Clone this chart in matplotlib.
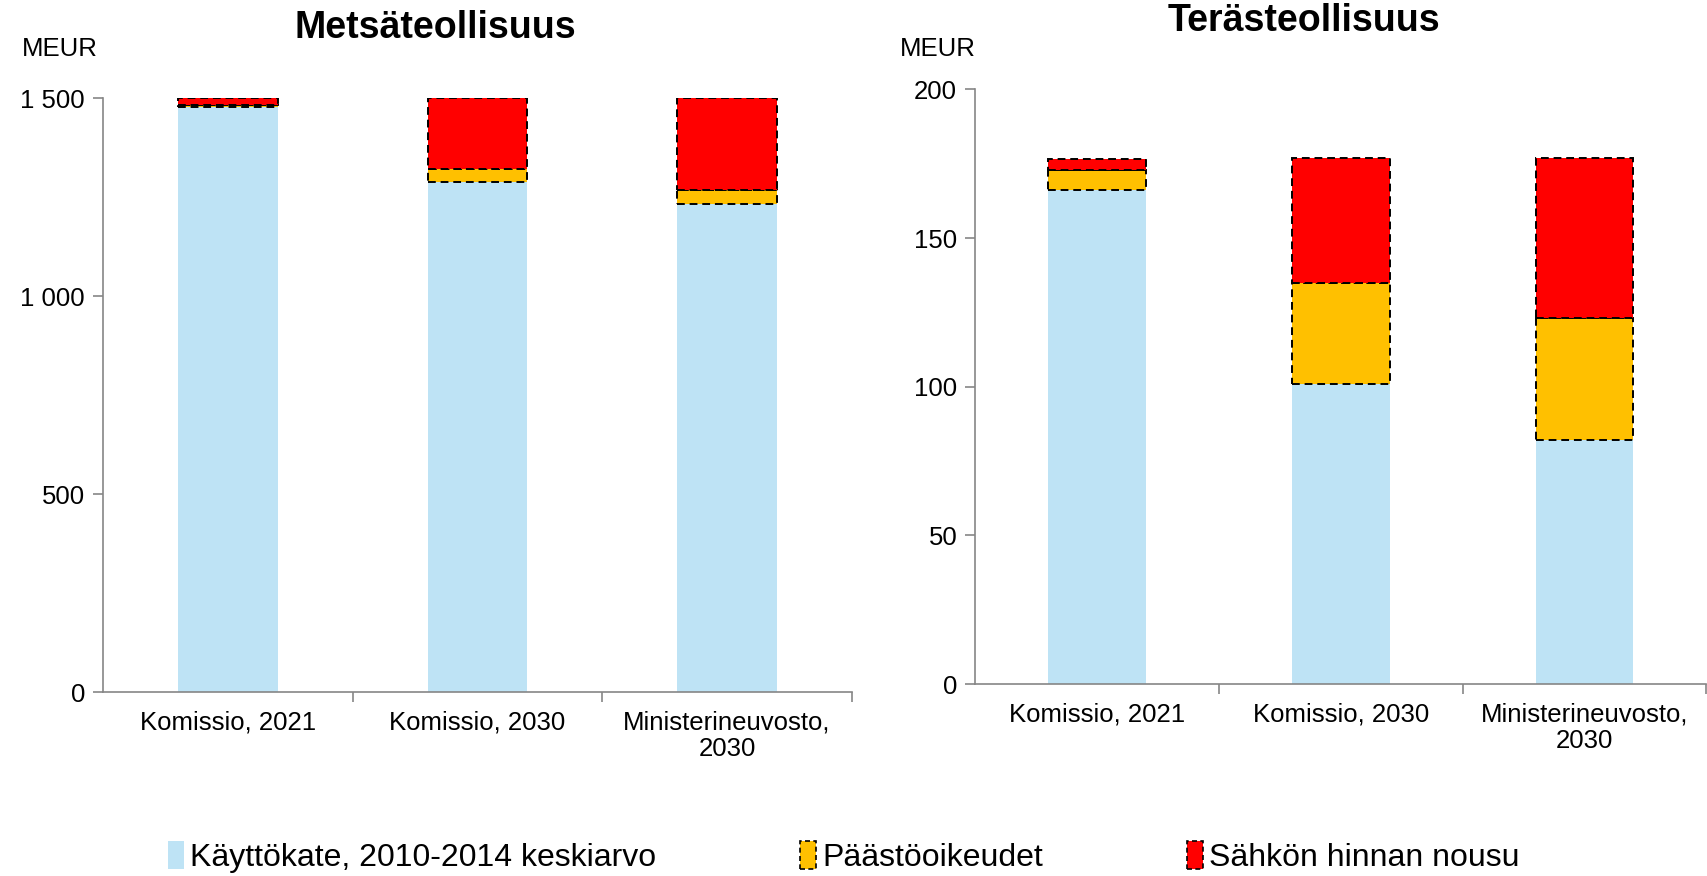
import matplotlib
matplotlib.use("Agg")
import matplotlib.pyplot as plt
from matplotlib.patches import Patch
from matplotlib.ticker import FuncFormatter, FixedLocator

plt.rcParams['font.family'] = ['Liberation Sans', 'DejaVu Sans']

categories = ["Komissio, 2021", "Komissio, 2030", "Ministerineuvosto,\n2030"]
series_names = ["Käyttökate, 2010-2014 keskiarvo", "Päästöoikeudet", "Sähkön hinnan nousu"]

metsa_kayttokate = [1478, 1288, 1233]
metsa_paastot = [5, 33, 36]
metsa_sahko = [17, 179, 231]

teras_kayttokate = [166, 101, 82]
teras_paastot = [7, 34, 41]
teras_sahko = [3.5, 42, 54]

blue = "#BEE3F5"
orange = "#FFC000"
red = "#FF0000"
spine_gray = "#868686"

fig = plt.figure(figsize=(17.08, 8.76), dpi=100)

def fmt(v, pos):
    return f"{int(v):,}".replace(",", " ")

def draw(ax, base, mid, top, ylim, yticks):
    x = list(range(len(categories)))
    w = 0.40
    ax.bar(x, base, width=w, color=blue, edgecolor='none', zorder=2)
    ax.bar(x, mid, width=w, bottom=base, color=orange, edgecolor='black',
           linestyle=(0, (4, 2.5)), linewidth=1.4, zorder=3)
    b3 = [b + m for b, m in zip(base, mid)]
    ax.bar(x, top, width=w, bottom=b3, color=red, edgecolor='black',
           linestyle=(0, (4, 2.5)), linewidth=1.4, zorder=3)
    ax.set_xlim(-0.5, 2.5)
    ax.set_ylim(*ylim)
    ax.set_yticks(yticks)
    ax.yaxis.set_major_formatter(FuncFormatter(fmt))
    ax.set_xticks(x)
    ax.set_xticklabels(categories, fontsize=18.5, linespacing=1.15)
    ax.xaxis.set_minor_locator(FixedLocator([0.5, 1.5, 2.5]))
    ax.tick_params(axis='x', which='major', length=0, pad=13)
    ax.tick_params(axis='x', which='minor', length=7, color=spine_gray, width=1.2)
    ax.tick_params(axis='y', length=7, color=spine_gray, width=1.2, labelsize=18.5, pad=6)
    for s in ['top', 'right']:
        ax.spines[s].set_visible(False)
    for s in ['left', 'bottom']:
        ax.spines[s].set_color(spine_gray)
        ax.spines[s].set_linewidth(1.2)
    ax.set_facecolor('white')

ax1 = fig.add_axes([0.0603, 0.210, 0.4385, 0.678])
draw(ax1, metsa_kayttokate, metsa_paastot, metsa_sahko, (0, 1500),
     [0, 500, 1000, 1500])
ax2 = fig.add_axes([0.571, 0.219, 0.428, 0.679])
draw(ax2, teras_kayttokate, teras_paastot, teras_sahko, (0, 200),
     [0, 50, 100, 150, 200])

fig.text(435 / 1708, 1 - 28 / 876, "Metsäteollisuus", fontsize=27, fontweight='bold',
         ha='center', va='center')
fig.text(1304 / 1708, 1 - 21 / 876, "Terästeollisuus", fontsize=27, fontweight='bold',
         ha='center', va='center')
fig.text(60 / 1708, 1 - 49 / 876, "MEUR", fontsize=18.5, ha='center', va='center')
fig.text(938 / 1708, 1 - 49 / 876, "MEUR", fontsize=18.5, ha='center', va='center')

handles = [
    Patch(facecolor=blue, edgecolor='none'),
    Patch(facecolor=orange, edgecolor='black', linestyle=(0, (3, 2)), linewidth=1.2),
    Patch(facecolor=red, edgecolor='black', linestyle=(0, (3, 2)), linewidth=1.2),
]
fig.legend(handles, series_names, loc='center', bbox_to_anchor=(0.494, 0.022),
           ncol=3, frameon=False, fontsize=23, handlelength=0.5, handleheight=1.0,
           handletextpad=0.2, columnspacing=4.5, borderaxespad=0, borderpad=0)

fig.savefig("out.png", dpi=100, facecolor='white')
